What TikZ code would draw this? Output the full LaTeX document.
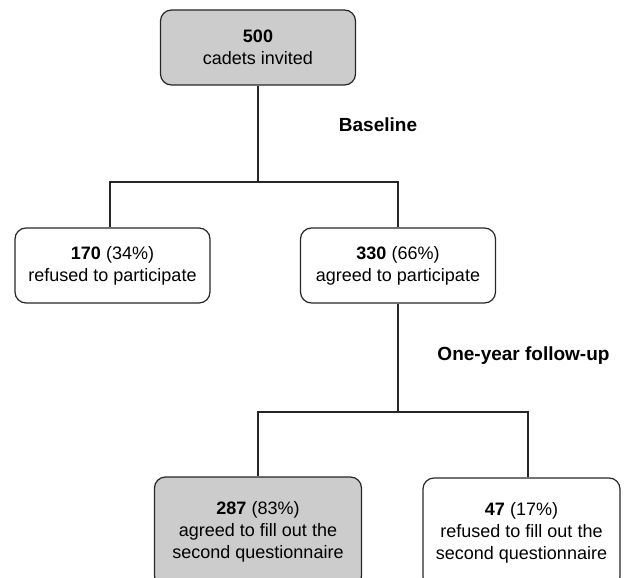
\documentclass[tikz,border=0pt]{standalone}
\usepackage{fontspec}
\setmainfont{Liberation Sans}
\begin{document}
\begin{tikzpicture}[x=1pt,y=-1pt,
  box/.style={draw=black!85, line width=1.2pt, rounded corners=11pt, align=center,
    inner sep=0pt, minimum width=195pt, minimum height=75pt,
    font=\fontsize{18}{22}\selectfont},
  grey/.style={fill=black!20},
  lbl/.style={font=\fontsize{19}{22}\selectfont\bfseries, inner sep=0pt},
  conn/.style={draw=black!85, line width=1.2pt}]
\useasboundingbox (0,0) rectangle (624,578);
\clip (0,0) rectangle (624,578);
\node[box,grey] (top) at (258,47.5) {\textbf{500}\\cadets invited};
\node[box] (left) at (112.5,265.5) {\textbf{170} (34\%)\\refused to participate};
\node[box] (right) at (398,265.5) {\textbf{330} (66\%)\\agreed to participate};
\node[box,grey, minimum width=207pt, minimum height=110pt] (bl) at (258,532) {\textbf{287} (83\%)\\agreed to fill out the\\second questionnaire};
\node[box, minimum width=197pt, minimum height=110pt] (br) at (521.5,533) {\textbf{47} (17\%)\\refused to fill out the\\second questionnaire};
\node[lbl] (base) at (378,125) {Baseline};
\node[lbl] (follow) at (523.5,356) {One-year follow-up};
\coordinate (j1) at (258,182);
\coordinate (j2) at (398,412);
\draw[conn] (top.south) -- (j1);
\draw[conn] (left.north -| 110,0) |- (j1) -| (right.north);
\draw[conn] (right.south) -- (j2);
\draw[conn] (bl.north) |- (j2) -| ([xshift=6.5pt]br.north);
\end{tikzpicture}
\end{document}
